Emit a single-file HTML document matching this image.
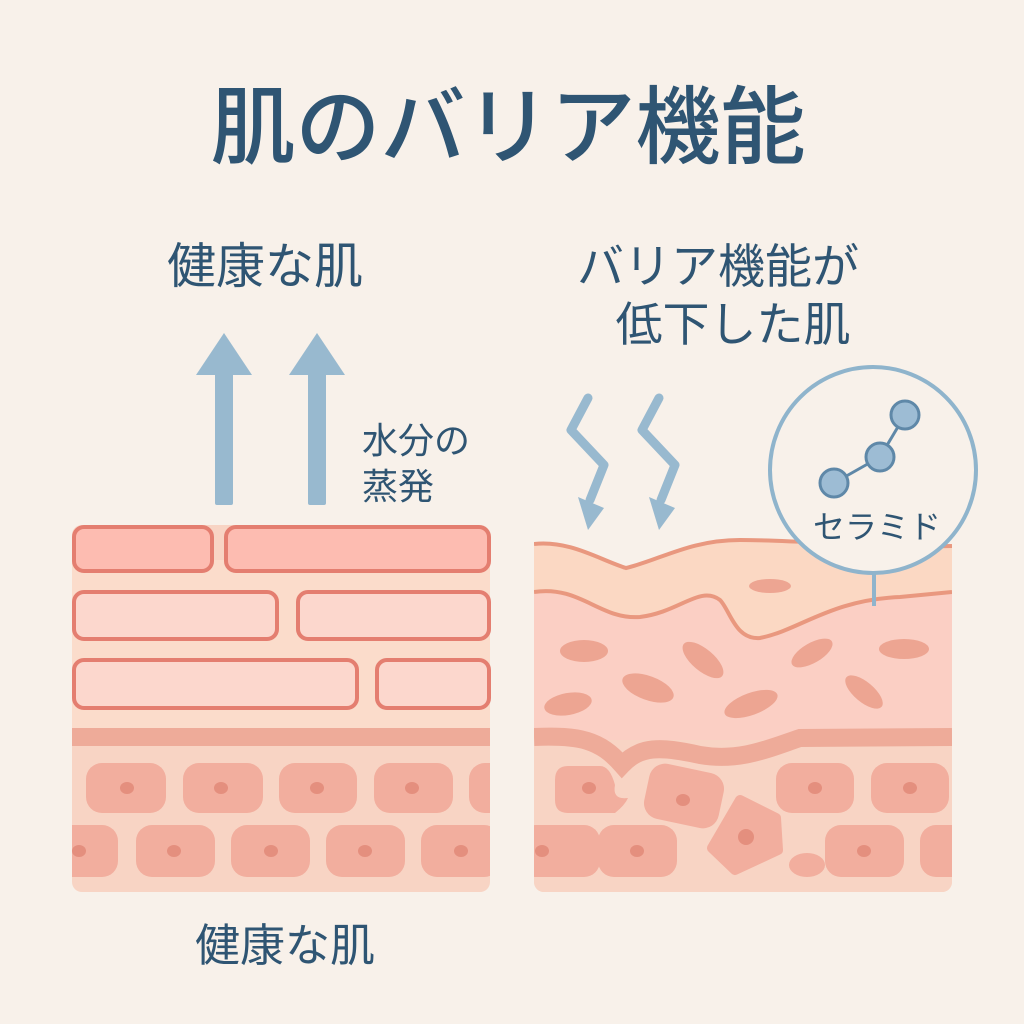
<!DOCTYPE html>
<html><head><meta charset="utf-8"><style>
html,body{margin:0;padding:0;background:#f8f1ea;}
svg{display:block}
text{font-family:"Liberation Sans","Noto Sans CJK JP",sans-serif;fill:#2f5573;}
</style></head><body>
<svg width="1024" height="1024" viewBox="0 0 1024 1024" xmlns="http://www.w3.org/2000/svg">
<rect width="1024" height="1024" fill="#f8f1ea"/>
<text x="508" y="157" font-size="85" text-anchor="middle" font-weight="500">肌のバリア機能</text>
<text x="265" y="283" font-size="49" text-anchor="middle">健康な肌</text>
<text x="718" y="283" font-size="47" text-anchor="middle">バリア機能が</text>
<text x="733" y="341" font-size="47" text-anchor="middle">低下した肌</text>
<text x="362" y="453" font-size="36">水分の</text>
<text x="362" y="499" font-size="36">蒸発</text>
<text x="285" y="961" font-size="45" text-anchor="middle">健康な肌</text>

<!-- up arrows -->
<g fill="#98b9cf">
<rect x="215" y="372" width="18" height="133" rx="2"/>
<polygon points="224,333 196,375 252,375"/>
<rect x="308" y="372" width="18" height="133" rx="2"/>
<polygon points="317,333 289,375 345,375"/>
</g>
<!-- zigzag arrows -->
<g fill="none" stroke="#98b9cf" stroke-width="9" stroke-linecap="round" stroke-linejoin="round">
<polyline points="588,398 571,430 604,465 590,500"/>
<polyline points="659,398 642,430 675,465 661,500"/>
</g>
<g fill="#98b9cf">
<polygon points="578,497 604,508 588,530"/>
<polygon points="649,497 675,508 659,530"/>
</g>

<!-- left panel -->
<rect x="72" y="525" width="418" height="367" rx="10" fill="#f8d4c4"/>
<rect x="72" y="560" width="418" height="168" fill="#fbdccb"/>
<rect x="72" y="728" width="418" height="18" fill="#eeab99"/>
<g stroke="#e47e70" stroke-width="4">
<rect x="74" y="527" width="138" height="44" rx="10" fill="#fdbcb1"/>
<rect x="226" y="527" width="263" height="44" rx="10" fill="#fdbcb1"/>
<rect x="74" y="592" width="203" height="47" rx="10" fill="#fcd7cd"/>
<rect x="298" y="592" width="191" height="47" rx="10" fill="#fcd7cd"/>
<rect x="74" y="660" width="283" height="48" rx="10" fill="#fcd7cd"/>
<rect x="377" y="660" width="112" height="48" rx="10" fill="#fcd7cd"/>
</g>
<clipPath id="lc"><rect x="72" y="525" width="418" height="367"/></clipPath>
<g clip-path="url(#lc)">
<g fill="#f2ae9e">
<rect x="86" y="763" width="80" height="50" rx="16"/>
<rect x="183" y="763" width="80" height="50" rx="16"/>
<rect x="279" y="763" width="78" height="50" rx="16"/>
<rect x="374" y="763" width="79" height="50" rx="16"/>
<rect x="469" y="763" width="60" height="50" rx="16"/>
<rect x="30" y="825" width="88" height="52" rx="16"/>
<rect x="136" y="825" width="79" height="52" rx="16"/>
<rect x="231" y="825" width="79" height="52" rx="16"/>
<rect x="326" y="825" width="79" height="52" rx="16"/>
<rect x="421" y="825" width="79" height="52" rx="16"/>
</g>
<g fill="#e48f7e">
<ellipse cx="127" cy="788" rx="7" ry="6"/><ellipse cx="221" cy="788" rx="7" ry="6"/>
<ellipse cx="317" cy="788" rx="7" ry="6"/><ellipse cx="412" cy="788" rx="7" ry="6"/>
<ellipse cx="79" cy="851" rx="7" ry="6"/><ellipse cx="174" cy="851" rx="7" ry="6"/>
<ellipse cx="271" cy="851" rx="7" ry="6"/><ellipse cx="365" cy="851" rx="7" ry="6"/>
<ellipse cx="461" cy="851" rx="7" ry="6"/>
</g>
</g>

<!-- right panel -->
<clipPath id="rc"><rect x="534" y="530" width="418" height="362" rx="10"/></clipPath>
<g clip-path="url(#rc)">
<path d="M534,544 C570,540 600,560 626,568 C660,560 690,540 740,540 C800,540 880,548 952,546 L952,900 L534,900Z" fill="#fbd8c3"/>
<path d="M534,592 C580,585 600,620 640,617 C680,612 700,585 720,600 C730,610 735,640 760,638 C800,630 830,600 900,597 L952,592 L952,740 L534,740Z" fill="#fbcfc4"/>
<rect x="534" y="740" width="418" height="160" fill="#f8d4c4"/>
<path d="M534,737 C580,735 600,740 622,765 C640,746 660,746 700,755 C740,762 770,748 800,738 L952,737" fill="none" stroke="#eeab99" stroke-width="18"/>
<path d="M534,720 C580,718 600,722 618,740 L618,740" fill="none" stroke="#fbcfc4" stroke-width="1"/>
<path d="M534,544 C570,540 600,560 626,568 C660,560 690,540 740,540 C800,540 880,548 952,546" fill="none" stroke="#e9987f" stroke-width="4"/>
<path d="M534,592 C580,585 600,620 640,617 C680,612 700,585 720,600 C730,610 735,640 760,638 C800,630 830,600 900,597 L952,592" fill="none" stroke="#e9987f" stroke-width="4"/>
<g fill="#eda592">
<ellipse cx="770" cy="586" rx="21" ry="7"/>
<ellipse cx="584" cy="651" rx="24" ry="11"/>
<ellipse cx="703" cy="660" rx="25" ry="11" transform="rotate(40 703 660)"/>
<ellipse cx="812" cy="653" rx="23" ry="10" transform="rotate(-30 812 653)"/>
<ellipse cx="904" cy="649" rx="25" ry="10"/>
<ellipse cx="568" cy="704" rx="24" ry="11" transform="rotate(-10 568 704)"/>
<ellipse cx="648" cy="688" rx="27" ry="12" transform="rotate(20 648 688)"/>
<ellipse cx="751" cy="704" rx="28" ry="11" transform="rotate(-20 751 704)"/>
<ellipse cx="864" cy="692" rx="23" ry="10" transform="rotate(40 864 692)"/>
</g>
<g fill="#f2ae9e">
<path d="M568,766 Q555,766 555,780 L555,800 Q555,813 568,813 L615,813 Q625,805 628,798 Q612,800 615,785 Q610,766 600,766Z"/>
<rect x="646" y="768" width="76" height="56" rx="16" transform="rotate(12 684 796)"/>
<rect x="776" y="763" width="78" height="50" rx="16"/>
<rect x="871" y="763" width="78" height="50" rx="16"/>
<rect x="520" y="825" width="80" height="52" rx="16"/>
<rect x="598" y="825" width="79" height="52" rx="16"/>
<path d="M740,800 L776,818 L778,850 L735,870 L712,848Z" stroke="#f2ae9e" stroke-width="10" stroke-linejoin="round"/>
<ellipse cx="807" cy="865" rx="18" ry="12"/>
<rect x="825" y="825" width="79" height="52" rx="16"/>
<rect x="920" y="825" width="70" height="52" rx="16"/>
</g>
<g fill="#e48f7e">
<ellipse cx="589" cy="788" rx="7" ry="6"/><ellipse cx="683" cy="800" rx="7" ry="6"/>
<ellipse cx="815" cy="788" rx="7" ry="6"/><ellipse cx="910" cy="788" rx="7" ry="6"/>
<ellipse cx="542" cy="851" rx="7" ry="6"/><ellipse cx="637" cy="851" rx="7" ry="6"/>
<ellipse cx="746" cy="837" rx="8" ry="8"/><ellipse cx="864" cy="851" rx="7" ry="6"/>
</g>
</g>

<!-- ceramide callout -->
<line x1="874" y1="572" x2="874" y2="606" stroke="#8fb4cc" stroke-width="4"/>
<circle cx="873" cy="470" r="103" fill="#f8f1ea" stroke="#8fb4cc" stroke-width="4"/>
<g stroke="#5f88a8" stroke-width="3">
<line x1="834" y1="483" x2="880" y2="457"/>
<line x1="880" y1="457" x2="905" y2="415"/>
<circle cx="834" cy="483" r="14" fill="#9dbcd4"/>
<circle cx="880" cy="457" r="14" fill="#9dbcd4"/>
<circle cx="905" cy="415" r="14" fill="#9dbcd4"/>
</g>
<text x="877" y="538" font-size="32" text-anchor="middle">セラミド</text>
</svg>
</body></html>
